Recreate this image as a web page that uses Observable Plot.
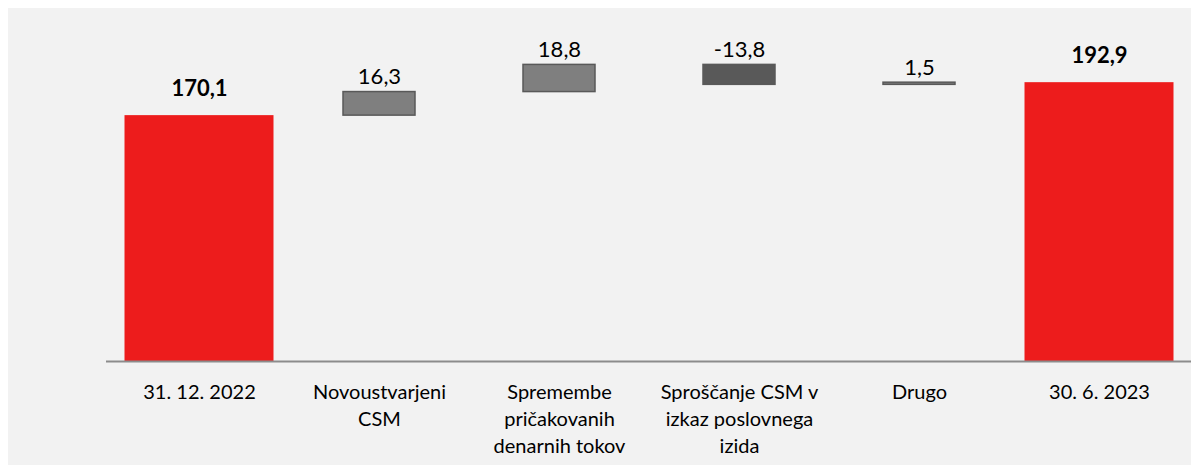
<!DOCTYPE html>
<html>
<head>
<meta charset="utf-8">
<script src="https://cdn.jsdelivr.net/npm/d3@7"></script>
<script src="https://cdn.jsdelivr.net/npm/@observablehq/plot@0.6"></script>
<style>
  html, body { margin: 0; padding: 0; background: #ffffff; }
  #panel { position: absolute; left: 8px; top: 8px; width: 1183px; height: 457px; background: #f2f2f2; overflow: hidden; }
  svg { display: block; }
</style>
</head>
<body>
<div id="panel"></div>
<script>
const categories = ["31. 12. 2022", "Novoustvarjeni CSM", "Spremembe pričakovanih denarnih tokov", "Sproščanje CSM v izkaz poslovnega izida", "Drugo", "30. 6. 2023"];
const tickLabels = ["31. 12. 2022", "Novoustvarjeni\nCSM", "Spremembe\npričakovanih\ndenarnih tokov", "Sproščanje CSM v\nizkaz poslovnega\nizida", "Drugo", "30. 6. 2023"];
const values = [170.1, 16.3, 18.8, -13.8, 1.5, 192.9];
const kinds = ["total", "delta", "delta", "delta", "delta", "total"];
const valueLabels = ["170,1", "16,3", "18,8", "-13,8", "1,5", "192,9"];

let run = 0;
const rows = categories.map((c, i) => {
  let y1, y2;
  if (kinds[i] === "total") { y1 = 0; y2 = values[i]; run = values[i]; }
  else { y1 = run; y2 = run + values[i]; run = y2; }
  return { cat: c, tick: tickLabels[i], kind: kinds[i], value: values[i], label: valueLabels[i], y1, y2, top: Math.max(y1, y2) };
});
const totals = rows.filter(d => d.kind === "total");
const deltas = rows.filter(d => d.kind === "delta");

const font = "Lato, 'Open Sans', sans-serif";
const chart = Plot.plot({
  width: 1183,
  height: 457,
  marginLeft: 98,
  marginRight: 0,
  marginTop: 35,
  marginBottom: 104,
  style: { background: "transparent", fontFamily: font },
  x: { domain: categories, padding: 0, axis: null },
  y: { domain: [0, 220], axis: null },
  marks: [
    Plot.barY(totals, { x: "cat", y1: "y1", y2: "y2", fill: "#ed1c1c", insetLeft: 15.5, insetRight: 15.5 }),
    Plot.barY(deltas, { x: "cat", y1: "y1", y2: "y2", fill: d => d.value < 0 ? "#595959" : "#7f7f7f", stroke: "#595959", strokeWidth: 1.5, insetLeft: 54, insetRight: 54 }),
    Plot.ruleY([0], { stroke: "#8c8c8c", strokeWidth: 2 }),
    Plot.text(totals, { x: "cat", y: "top", text: "label", dy: -27, fontSize: 22, fontWeight: "bold", fill: "#000" }),
    Plot.text(deltas, { x: "cat", y: "top", text: "label", dy: -15, fontSize: 22, fill: "#000" }),
    Plot.text(rows, { x: "cat", y: () => 0, text: "tick", dy: 18, lineAnchor: "top", lineHeight: 1.35, fontSize: 20, fill: "#000" })
  ]
});
document.getElementById("panel").appendChild(chart);
</script>
</body>
</html>
